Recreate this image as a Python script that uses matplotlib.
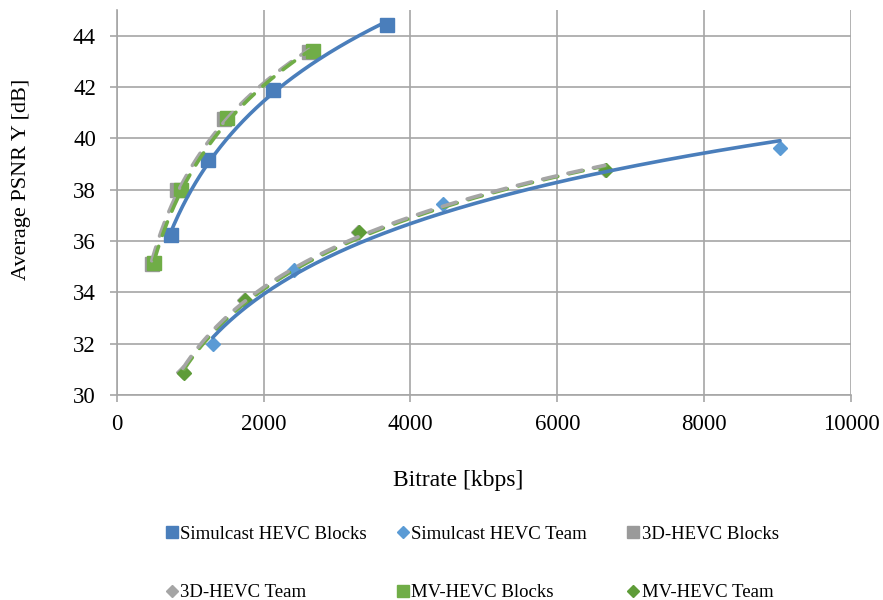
import numpy as np
import matplotlib
matplotlib.use("Agg")
import matplotlib.pyplot as plt
from matplotlib.lines import Line2D

plt.rcParams.update({
    "font.family": ["Liberation Serif", "DejaVu Serif"],
    "font.size": 16,
})

# ---- data ------------------------------------------------------------------
sim_blocks_x = [735, 1247, 2124, 3677]
sim_blocks_y = [36.22, 39.14, 41.89, 44.43]
sim_team_x = [1307, 2415, 4448, 9033]
sim_team_y = [31.98, 34.86, 37.46, 39.62]
hevc3d_blocks_x = [477, 825, 1461, 2623]
hevc3d_blocks_y = [35.12, 37.97, 40.76, 43.35]
hevc3d_team_x = [900, 1730, 3285, 6645]
hevc3d_team_y = [30.90, 33.72, 36.37, 38.78]
mv_blocks_x = [512, 872, 1506, 2677]
mv_blocks_y = [35.16, 37.97, 40.80, 43.39]
mv_team_x = [917, 1747, 3304, 6663]
mv_team_y = [30.84, 33.69, 36.35, 38.75]

x_ticks = [0, 2000, 4000, 6000, 8000, 10000]
y_ticks = [30, 32, 34, 36, 38, 40, 42, 44]

BLUE, LBLUE = "#4A7EBB", "#5B9BD5"
GREY_SQ, GREY_D, GREY_LN = "#9A9A9A", "#A5A5A5", "#A5A5A5"
GREEN_SQ, GREEN_D = "#70AD47", "#5E9C38"
GRID = "#A6A6A6"

series = [
    ("Simulcast HEVC Blocks", sim_blocks_x, sim_blocks_y, "s", BLUE, BLUE, "-"),
    ("Simulcast HEVC Team", sim_team_x, sim_team_y, "D", LBLUE, BLUE, "-"),
    ("3D-HEVC Blocks", hevc3d_blocks_x, hevc3d_blocks_y, "s", GREY_SQ, GREY_LN, "--"),
    ("3D-HEVC Team", hevc3d_team_x, hevc3d_team_y, "D", GREY_D, GREY_LN, "--"),
    ("MV-HEVC Blocks", mv_blocks_x, mv_blocks_y, "s", GREEN_SQ, GREEN_SQ, "--"),
    ("MV-HEVC Team", mv_team_x, mv_team_y, "D", GREEN_D, GREEN_SQ, "--"),
]

fig = plt.figure(figsize=(8.83, 6.0), dpi=100)
ax = fig.add_axes([0.1322, 0.3417, 0.8316, 0.6416])

# markers first, then logarithmic trendlines (Excel style) on top
for name, xs, ys, mk, col, lcol, ls in series:
    ms = 9.5 if mk == "s" else 7.5
    ax.plot(xs, ys, ls="none", marker=mk, ms=ms, color=col, mec=col, zorder=3)

trend_order = [2, 4, 5, 3, 0, 1]
for i in trend_order:
    name, xs, ys, mk, col, lcol, ls = series[i]
    xs = np.asarray(xs, float)
    a, b = np.polyfit(np.log(xs), ys, 1)
    xf = np.linspace(xs.min(), xs.max(), 200)
    kw = dict(color=lcol, lw=2.6, zorder=4, solid_capstyle="round")
    if ls == "--":
        kw.update(dashes=(4.0, 3.2), dash_capstyle="round")
    ax.plot(xf, a * np.log(xf) + b, **kw)

ax.set_xlim(0, 10000)
ax.set_ylim(30, 45)
ax.set_xticks(x_ticks)
ax.set_yticks(y_ticks)
ax.grid(True, color=GRID, lw=1.2)
ax.set_axisbelow(True)
for side in ("top", "right"):
    ax.spines[side].set_visible(False)
for side in ("left", "bottom"):
    ax.spines[side].set_color(GRID)
    ax.spines[side].set_linewidth(1.2)
ax.tick_params(axis="both", direction="out", length=5, width=1.2, color=GRID,
               labelsize=16.5)
ax.tick_params(axis="y", pad=10)
ax.tick_params(axis="x", pad=9)

ax.set_xlabel("Bitrate [kbps]", fontsize=17)
ax.xaxis.set_label_coords(0.465, -0.195)
ax.set_ylabel("Average PSNR Y [dB]", fontsize=16)
ax.yaxis.set_label_coords(-0.117, 0.56)

# legend: three equal-width columns, two rows
col_x = [0.188, 0.450, 0.711]
for c in range(3):
    handles = []
    for r in range(2):
        name, xs, ys, mk, col, lcol, ls = series[r * 3 + c]
        ms = 8.5 if mk == "s" else 6.5
        handles.append(Line2D([], [], ls="none", marker=mk, ms=ms, color=col,
                              mec=col, label=name))
    fig.legend(handles=handles, loc="upper left",
               bbox_to_anchor=(col_x[c], 0.124),
               frameon=False, fontsize=13.5, handlelength=0.6,
               handletextpad=0.15, labelspacing=2.2, borderaxespad=0,
               borderpad=0)

fig.savefig("out.png", dpi=100)
